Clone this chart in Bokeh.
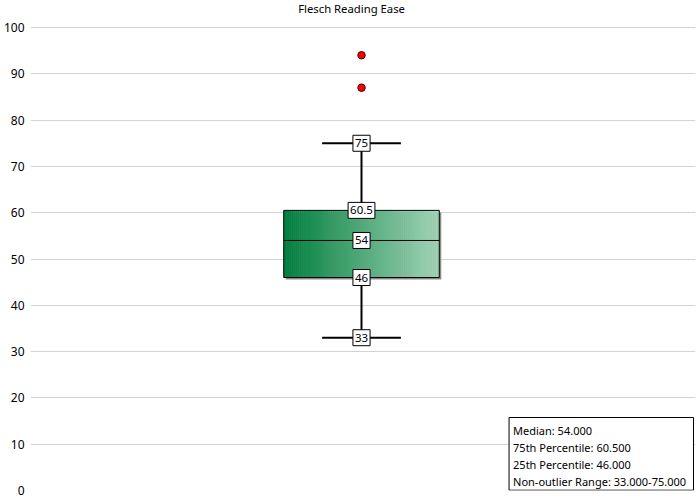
from bokeh.plotting import figure
from bokeh.models import Range1d, Label, SingleIntervalTicker
from bokeh.embed import file_html
from bokeh.resources import INLINE

# ---- data ----
title = "Flesch Reading Ease"
q1 = 46.0
median = 54.0
q3 = 60.5
lower = 33.0
upper = 75.0
outliers = [87, 94]
label_values = [75, 60.5, 54, 46, 33]
label_texts = ["75", "60.5", "54", "46", "33"]

FONT = "Noto Sans"
W, H = 700, 500
# x layout: box half-width = 0.5 (78 px)
X0, X1 = -332 / 156, 335 / 156
frame_w, plot_h = 667, 463          # pixels for the 0..100 span
px_x = (X1 - X0) / frame_w
px_y = 100 / plot_h
Y_TOP = 100 + 27 * px_y             # room for the title inside the frame

p = figure(width=W, height=H, output_backend="svg", toolbar_location=None,
           x_range=Range1d(X0, X1), y_range=Range1d(0, Y_TOP),
           min_border_left=28, min_border_right=5, min_border_top=0,
           min_border_bottom=10)
p.outline_line_color = None
p.xaxis.visible = False
p.xgrid.visible = False
p.yaxis.ticker = SingleIntervalTicker(interval=10)
p.yaxis.axis_line_color = None
p.yaxis.major_tick_line_color = None
p.yaxis.minor_tick_line_color = None
p.yaxis.major_tick_out = 0
p.yaxis.minor_tick_out = 0
p.yaxis.major_tick_in = 0
p.yaxis.minor_tick_in = 0
p.yaxis.major_label_text_font = FONT
p.yaxis.major_label_text_font_size = "12px"
p.yaxis.major_label_text_color = "#000000"
p.yaxis.major_label_standoff = 6
p.ygrid.grid_line_color = "#d3d3d3"
p.ygrid.ticker = SingleIntervalTicker(interval=10)

cx = 0.0
half_w = 0.5
cap_w = 39.5 / 156

# title, centred on the page
p.add_layout(Label(x=X0 + (W / 2 - 28) * px_x, y=100 + 19 * px_y, text=title,
                   text_align="center", text_baseline="middle", text_font=FONT,
                   text_font_size="11.3px", text_color="#000000"))

# box shadow
p.quad(left=cx - half_w + 2 * px_x, right=cx + half_w + 2 * px_x,
       top=q3 - 2 * px_y, bottom=q1 - 2 * px_y,
       fill_color="#8a8a8a", line_color=None)

# gradient box
n = 80
c0 = (0, 128, 62)
c1 = (160, 212, 182)
lefts, rights, cols = [], [], []
for i in range(n):
    t = i / (n - 1)
    l = cx - half_w + 2 * half_w * i / n
    r = cx - half_w + 2 * half_w * (i + 1) / n
    lefts.append(l)
    rights.append(r + 0.002)
    c = tuple(int(round(a + (b - a) * t)) for a, b in zip(c0, c1))
    cols.append("#%02x%02x%02x" % c)
p.quad(left=lefts, right=rights, top=q3, bottom=q1, fill_color=cols, line_color=None)
p.quad(left=cx - half_w, right=cx + half_w, top=q3, bottom=q1,
       fill_color=None, line_color="#000000", line_width=1)

# median
p.segment(x0=cx - half_w, x1=cx + half_w, y0=median, y1=median, line_color="#000000", line_width=1)

# whiskers
p.segment(x0=[cx, cx], x1=[cx, cx], y0=[q3, q1], y1=[upper, lower], line_color="#000000", line_width=2)
p.segment(x0=[cx - cap_w, cx - cap_w], x1=[cx + cap_w, cx + cap_w], y0=[upper, lower],
          y1=[upper, lower], line_color="#000000", line_width=2)

# outliers
p.scatter(x=[cx] * len(outliers), y=outliers, size=7.5, fill_color="#ff0000",
          line_color="#400000", line_width=1)

# value labels
for v, t in zip(label_values, label_texts):
    p.add_layout(Label(x=cx, y=v, text=t, text_align="center", text_baseline="middle",
                       x_offset=3, y_offset=-3, text_alpha=0.0,
                       text_font=FONT, text_font_size="11.5px",
                       background_fill_color="#8a8a8a", padding=(2, 4)))
    p.add_layout(Label(x=cx, y=v, text=t, text_align="center", text_baseline="middle",
                       text_font=FONT, text_font_size="11.5px", text_color="#000000",
                       background_fill_color="#ffffff", border_line_color="#000000",
                       border_line_width=1, padding=(2, 4)))

# stats box (pixel layout converted to data coordinates)
stats_lines = [
    "Median: %.3f" % median,
    "75th Percentile: %.3f" % q3,
    "25th Percentile: %.3f" % q1,
    "Non-outlier Range: %.3f-%.3f" % (lower, upper),
]
box_left_px, box_right_px, box_top_px = 480, 665, 73   # relative to frame left / y=0
p.quad(left=X0 + box_left_px * px_x, right=X0 + box_right_px * px_x,
       bottom=0.3 * px_y, top=box_top_px * px_y,
       fill_color="#ffffff", line_color="#000000", line_width=1)
for i, s in enumerate(stats_lines):
    p.add_layout(Label(x=X0 + (box_left_px + 4) * px_x, y=(60 - 17 * i) * px_y, text=s,
                       text_align="left", text_baseline="middle",
                       text_font=FONT, text_font_size="11px", text_color="#000000"))

open("out.html", "w").write(file_html(p, INLINE))
